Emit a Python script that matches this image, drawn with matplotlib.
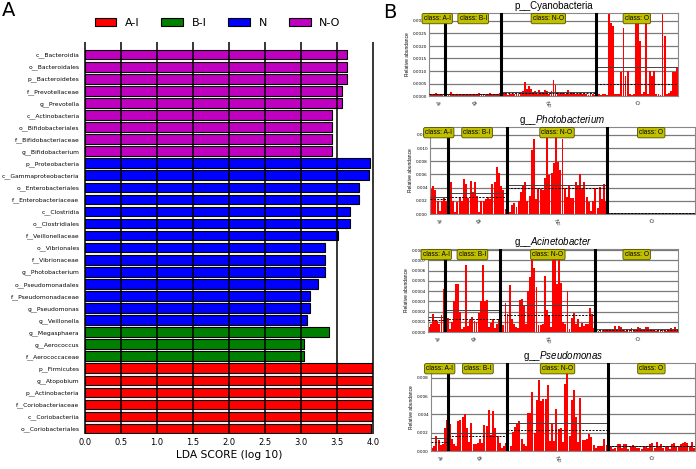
import numpy as np
import matplotlib
matplotlib.use("Agg")
import matplotlib.pyplot as plt
from matplotlib.patches import Patch
from matplotlib.ticker import FormatStrFormatter
from matplotlib.transforms import blended_transform_factory

plt.rcParams["mathtext.fontset"] = "custom"
plt.rcParams["mathtext.rm"] = "Liberation Sans"
plt.rcParams["mathtext.it"] = "Liberation Sans:italic"

# ── Panel A: LEfSe LDA scores ─────────────────────────────────────────────
lda_names = [
    "c__Bacteroidia", "o__Bacteroidales", "p__Bacteroidetes", "f__Prevotellaceae",
    "g__Prevotella", "c__Actinobacteria", "o__Bifidobacteriales", "f__Bifidobacteriaceae",
    "g__Bifidobacterium", "p__Proteobacteria", "c__Gammaproteobacteria",
    "o__Enterobacteriales", "f__Enterobacteriaceae", "c__Clostridia", "o__Clostridiales",
    "f__Veillonellaceae", "o__Vibrionales", "f__Vibrionaceae", "g__Photobacterium",
    "o__Pseudomonadales", "f__Pseudomonadaceae", "g__Pseudomonas", "g__Veillonella",
    "g__Megasphaera", "g__Aerococcus", "f__Aerococcaceae", "p__Firmicutes",
    "g__Atopobium", "p__Actinobacteria", "f__Coriobacteriaceae", "c__Coriobacteriia",
    "o__Coriobacteriales",
]
lda_scores = [
    3.64, 3.64, 3.64, 3.57, 3.57, 3.43, 3.43, 3.43, 3.43,
    3.96, 3.94, 3.81, 3.81, 3.68, 3.68, 3.52, 3.33, 3.33, 3.33,
    3.24, 3.12, 3.12, 3.09,
    3.39, 3.04, 3.04,
    4.00, 4.00, 3.99, 3.99, 3.99, 3.97,
]
lda_classes = ["N-O"] * 9 + ["N"] * 14 + ["B-I"] * 3 + ["A-I"] * 6
legend_classes = ["A-I", "B-I", "N", "N-O"]
class_colors = {"A-I": "#ff0000", "B-I": "#008000", "N": "#0000ff", "N-O": "#bf00bf"}

# ── Panel B: relative abundance per sample, split by class ────────────────
box_classes = ["A-I", "B-I", "N-O", "O"]
tick_classes = [r"$A_I$", r"$B_I$", r"$N_O$", r"$O$"]

cyano_ai = [0.00008, 0.0001, 0.0001, 0.00012, 0.0001, 0.00008, 0.0001, 0.00009]
cyano_bi = [0.00005, 0.0001, 0.00015, 0.00008, 0.00005, 0.0001, 0.00006, 0.0001, 0.00008,
            0.00005, 0.00008, 0.0001, 0.00006, 0.00005, 0.00008, 0.0001, 0.00012, 0.00008,
            0.0001, 0.00006, 0.0001, 0.00012, 0.00005, 0.00008, 0.0001, 0.00006, 0.00012]
cyano_no = [0.0001, 0.00012, 0.00008, 0.00005, 0.0001, 0.00008, 0.0001, 0.00012, 0.0001,
            0.00015, 0.0002, 0.00055, 0.0003, 0.0004, 0.0003, 0.00015, 0.0002, 0.0001,
            0.00025, 0.00012, 0.00015, 0.00025, 0.0002, 0.0001, 0.0002, 0.00065, 0.00045,
            0.00015, 0.0001, 0.00012, 0.0001, 0.00008, 0.00025, 0.0001, 0.00012, 0.0001,
            0.00008, 0.0001, 0.00012, 0.0001, 0.00008, 0.0001, 0.00005, 0.00008, 0.0001,
            0.00005]
cyano_o = [0.0040, 0.0001, 0.00005, 0.0001, 0.0001, 0.00005, 0.0040, 0.0029, 0.0028, 0.0001,
           0.00008, 0.0001, 0.00095, 0.0027, 0.0008, 0.0010, 0.0001, 0.00005, 0.0001, 0.0040,
           0.0030, 0.0022, 0.0001, 0.00015, 0.0040, 0.0001, 0.0010, 0.0008, 0.0010, 0.0001,
           0.0001, 0.00005, 0.0040, 0.0024, 0.0001, 0.00012, 0.0002, 0.00095, 0.00095, 0.00115]

photo_ai = [0.0038, 0.0042, 0.0037, 0.0020, 0.0005, 0.0020, 0.0025, 0.0020]
photo_bi = [0.0023, 0.0048, 0.0020, 0.0003, 0.0018, 0.0026, 0.0020, 0.0053, 0.0045,
            0.0024, 0.0050, 0.0033, 0.0048, 0.0028, 0.0003, 0.0020, 0.0020, 0.0022,
            0.0026, 0.0022, 0.0045, 0.0049, 0.0071, 0.0062, 0.0042, 0.0036, 0.0008]
photo_no = [0.0020, 0.0003, 0.0014, 0.0016, 0.0011, 0.0020, 0.0034, 0.0044, 0.0048, 0.0020,
            0.0027, 0.0097, 0.0114, 0.0023, 0.0039, 0.0038, 0.0036, 0.0054, 0.0118, 0.0059,
            0.0062, 0.0078, 0.0118, 0.0079, 0.0066, 0.0114, 0.0039, 0.0026, 0.0044, 0.0024,
            0.0025, 0.0049, 0.0043, 0.0060, 0.0039, 0.0048, 0.0026, 0.0018, 0.0004, 0.0019,
            0.0040, 0.0009, 0.0041, 0.0022, 0.0046, 0.0020]
photo_o = [0.0001, 0.00005, 0.0001, 0.00008, 0.0001, 0.00005, 0.00012, 0.0001, 0.00008, 0.0001,
           0.0002, 0.0001, 0.00008, 0.00012, 0.0001, 0.00005, 0.0001, 0.00008, 0.00015, 0.0001,
           0.00005, 0.0001, 0.00008, 0.0001, 0.00012, 0.00005, 0.0001, 0.00008, 0.0001, 0.00015,
           0.0001, 0.00005, 0.00008, 0.0001, 0.00012, 0.0001, 0.00008, 0.0001, 0.00005, 0.0001]

acin_ai = [0.00005, 0.00008, 0.00018, 0.00012, 0.00011, 0.00008, 0.00017, 0.00042]
acin_bi = [0.00043, 0.00014, 0.00003, 0.0001, 0.0003, 0.00047, 0.00047, 0.0002, 0.00003,
           0.00005, 0.00065, 0.00006, 0.00012, 0.00015, 0.00011, 0.0001, 0.00019, 0.0003,
           0.00065, 0.0003, 0.00031, 0.00005, 0.00009, 0.00013, 0.00004, 0.00008, 0.00013]
acin_no = [0.00058, 0.00007, 0.00028, 0.00018, 0.00046, 0.00013, 0.00008, 0.00005, 0.00004,
           0.00031, 0.00032, 0.00025, 0.00008, 0.0004, 0.00054, 0.0008, 0.00062, 0.00044,
           0.00007, 0.00007, 0.00008, 0.00055, 0.00021, 0.00016, 0.00005, 0.0008, 0.0008,
           0.00047, 0.0008, 0.00048, 0.0001, 0.00008, 0.0004, 0.00003, 0.00014, 0.00019,
           0.00008, 0.00013, 0.00005, 0.00009, 0.00006, 0.00008, 0.00008, 0.00023, 0.00018,
           0.00004]
acin_o = [0.00002, 0.00001, 0.00002, 0.00001, 0.00002, 0.00002, 0.00003, 0.00002, 0.00002,
          0.00006, 0.00001, 0.00006, 0.00005, 0.00002, 0.00001, 0.00003, 0.00002, 0.00004,
          0.00001, 0.00002, 0.00005, 0.00004, 0.00002, 0.00001, 0.00005, 0.00005, 0.00002,
          0.00003, 0.00002, 0.00001, 0.00002, 0.00002, 0.00003, 0.00002, 0.00001, 0.00003,
          0.00004, 0.00002, 0.00005, 0.00003]

pseudo_ai = [0.0003, 0.0005, 0.0016, 0.0012, 0.0007, 0.0008, 0.0025, 0.0034]
pseudo_bi = [0.0029, 0.0013, 0.0008, 0.0006, 0.0033, 0.0034, 0.0037, 0.0040, 0.0025,
             0.0010, 0.0031, 0.0008, 0.0008, 0.0009, 0.0013, 0.0009, 0.0028, 0.0027,
             0.0045, 0.0018, 0.0044, 0.0025, 0.0016, 0.0009, 0.0003, 0.0005, 0.0009]
pseudo_no = [0.0042, 0.0006, 0.0021, 0.0026, 0.0030, 0.0033, 0.0013, 0.0008, 0.0006, 0.0041,
             0.0042, 0.0064, 0.0020, 0.0056, 0.0077, 0.0055, 0.0057, 0.0057, 0.0072, 0.0011,
             0.0030, 0.0011, 0.0046, 0.0024, 0.0025, 0.0010, 0.0073, 0.0085, 0.0016, 0.0056,
             0.0067, 0.0037, 0.0010, 0.0058, 0.0012, 0.0012, 0.0013, 0.0019, 0.0015, 0.0007,
             0.0003, 0.0006, 0.0005, 0.0006, 0.0013, 0.0007]
pseudo_o = [0.0003, 0.0004, 0.0002, 0.0003, 0.0008, 0.0008, 0.0003, 0.0008, 0.0008, 0.0002,
            0.0004, 0.0007, 0.0004, 0.0003, 0.0003, 0.0002, 0.0006, 0.0005, 0.0003, 0.0008,
            0.0009, 0.0003, 0.0010, 0.0005, 0.0008, 0.0003, 0.0004, 0.0006, 0.0002, 0.0008,
            0.0009, 0.0004, 0.0005, 0.0008, 0.0009, 0.0010, 0.0009, 0.0004, 0.0010, 0.0003]

feature_titles = [r"p__Cyanobacteria", r"g__$\mathit{Photobacterium}$",
                  r"g__$\mathit{Acinetobacter}$", r"g__$\mathit{Pseudomonas}$"]
feature_groups = [
    [cyano_ai, cyano_bi, cyano_no, cyano_o],
    [photo_ai, photo_bi, photo_no, photo_o],
    [acin_ai, acin_bi, acin_no, acin_o],
    [pseudo_ai, pseudo_bi, pseudo_no, pseudo_o],
]

# axis settings (ylim top, tick step, tick format) and pixel boxes (l, t, r, b)
feature_axes = [(0.00332, 0.0005, "%.4f"), (0.0132, 0.002, "%.3f"),
                (0.00081, 0.0001, "%.4f"), (0.0096, 0.002, "%.3f")]
feature_boxes = [(429, 13, 678, 96), (430, 127, 695, 214),
                 (428, 249, 678, 332), (431, 363, 695, 451)]

W, H = 696, 469
fig = plt.figure(figsize=(W / 100, H / 100), dpi=100)


def add_axes_px(left, top, right, bottom):
    return fig.add_axes([left / W, 1 - bottom / H, (right - left) / W, (bottom - top) / H])


# ──────────────────────────────────────────────
# Panel A
# ──────────────────────────────────────────────
axA = add_axes_px(85, 42, 373, 434)
ypos = np.arange(len(lda_names))
ylo, yhi = len(lda_names) - 0.55, -1.05
axA.barh(ypos, lda_scores, height=0.8,
         color=[class_colors[c] for c in lda_classes],
         edgecolor="black", linewidth=0.8, zorder=1)
xt = np.arange(0, 4.01, 0.5)
# grid lines run over the bars, like the LEfSe output
axA.vlines(xt, yhi, ylo, colors="black", linewidth=1.1, zorder=5, clip_on=False)
axA.set_xlim(0, 4.0)
axA.set_ylim(ylo, yhi)
axA.set_xticks(xt)
axA.set_xticklabels([f"{v:.1f}" for v in xt], fontsize=6)
axA.set_yticks(ypos)
axA.set_yticklabels(lda_names, fontsize=4.3)
axA.tick_params(length=0, pad=4)
axA.tick_params(axis="x", pad=3)
for s in axA.spines.values():
    s.set_visible(False)
axA.set_xlabel("LDA SCORE (log 10)", fontsize=7.7, labelpad=2)

handles = [Patch(facecolor=class_colors[c], edgecolor="black", linewidth=0.8)
           for c in legend_classes]
fig.legend(handles, legend_classes, ncol=4, loc="center",
           bbox_to_anchor=(217.5 / W, 1 - 23.3 / H), frameon=False, fontsize=8,
           handlelength=1.95, handleheight=0.72, handletextpad=0.75, columnspacing=2.0)

fig.text(2 / W, 1 - 1 / H, "A", fontsize=14, va="top", ha="left")
fig.text(383 / W, 1 - 3 / H, "B", fontsize=14, va="top", ha="left")

# ──────────────────────────────────────────────
# Panel B
# ──────────────────────────────────────────────
for title, groups, (ytop, ystep, yfmt), box in zip(feature_titles, feature_groups,
                                                   feature_axes, feature_boxes):
    ax = add_axes_px(*box)
    vals = np.concatenate(groups)
    x = np.arange(len(vals))
    ax.bar(x, vals, width=0.9, color="#ff0000", linewidth=0, zorder=2)

    trans = blended_transform_factory(ax.transData, ax.transAxes)
    centers = []
    start = 0
    for i, g in enumerate(groups):
        end = start + len(g)
        ax.hlines(np.mean(g), start - 0.5, end - 0.5, colors="#444444", lw=0.7, zorder=3)
        ax.hlines(np.median(g), start - 0.5, end - 0.5, colors="black", lw=0.7,
                  linestyles=(0, (2, 1.5)), zorder=3)
        if i > 0:
            ax.axvline(start - 0.5, color="black", lw=2.2, zorder=4)
        c = (start + end - 1) / 2
        centers.append(c)
        ax.text(c, 0.975, "class: " + box_classes[i], transform=trans,
                ha="center", va="top", fontsize=4.8, family="Liberation Sans",
                bbox=dict(boxstyle="round,pad=0.25", fc="#c0c000", ec="#505000", lw=0.6),
                zorder=6, clip_on=False)
        start = end

    ax.set_xlim(-0.5, len(vals) - 0.5)
    ax.set_ylim(0, ytop)
    ax.set_yticks(np.arange(0, ytop + 1e-12, ystep))
    ax.yaxis.set_major_formatter(FormatStrFormatter(yfmt))
    ax.set_xticks(centers)
    ax.set_xticklabels(tick_classes, rotation=-60, fontsize=3.5)
    ax.tick_params(axis="y", labelsize=3, length=0, pad=1.5)
    ax.tick_params(axis="x", length=0, pad=1.5)
    ax.set_axisbelow(True)
    ax.yaxis.grid(True, color="#7a7a7a", linewidth=0.9, zorder=0)
    for s in ax.spines.values():
        s.set_color("#888888")
        s.set_linewidth(0.8)
    ax.set_ylabel("Relative abundance", fontsize=3.5, labelpad=2, family="Liberation Sans")
    ax.set_title(title, fontsize=7, pad=3, family="Liberation Sans")

fig.savefig("out.png", dpi=100)
